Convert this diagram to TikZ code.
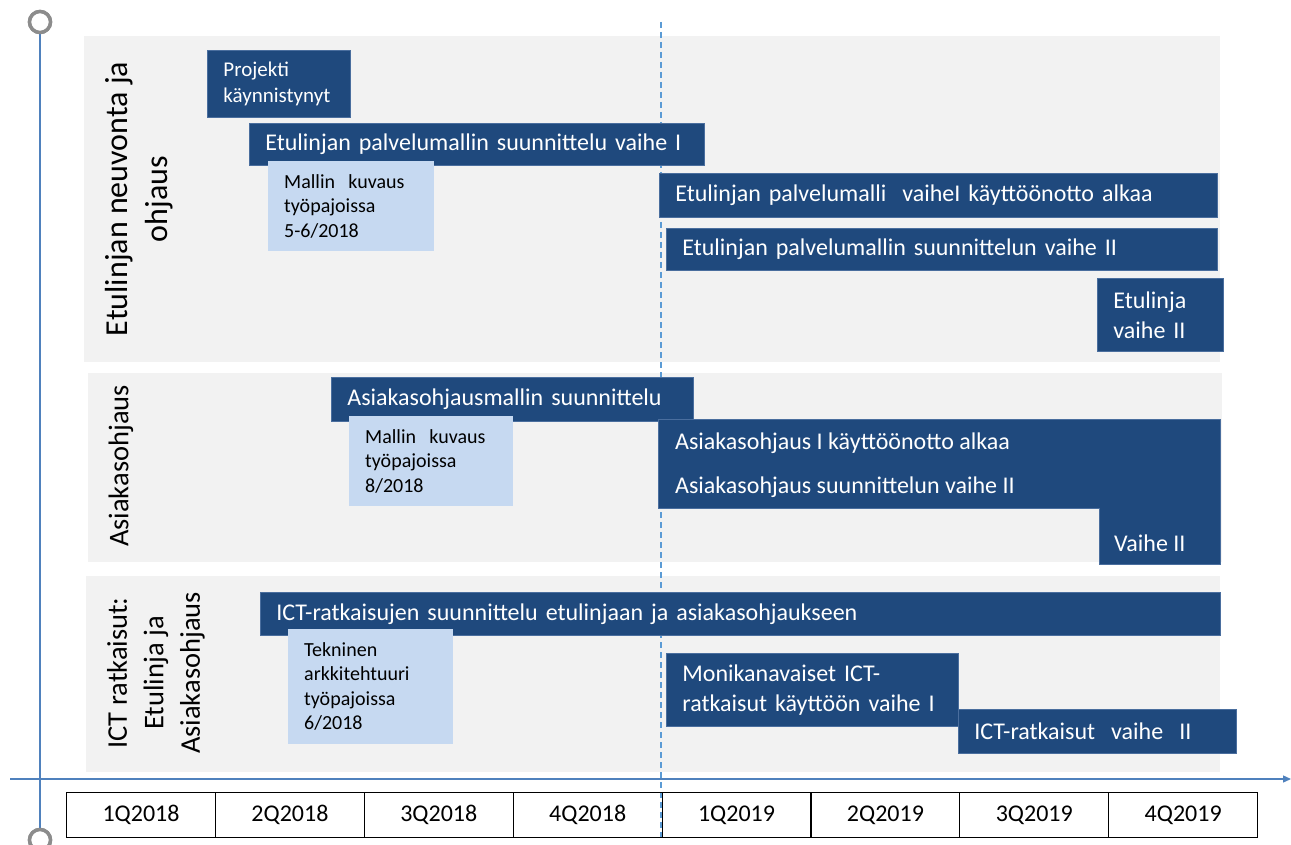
\documentclass[tikz,border=0pt]{standalone}
\usepackage{fontspec}
\setmainfont{Carlito}
\usetikzlibrary{arrows.meta}
\definecolor{dblue}{HTML}{1F497D}
\definecolor{dborder}{HTML}{4A6E9E}
\definecolor{lblue}{HTML}{C6D9F1}
\definecolor{bandgray}{HTML}{F2F2F2}
\definecolor{axisblue}{HTML}{4F81BD}
\definecolor{dashblue}{HTML}{5B9BD5}
\definecolor{circgray}{HTML}{8C8C8C}
\newcommand\myfs[2]{\fontsize{#1}{#2}\selectfont}
\tikzset{
  band/.style={fill=bandgray, draw=none},
  dbox/.style={fill=dblue, draw=dborder, line width=0.8pt, text=white, align=left,
    inner xsep=16pt, inner ysep=0pt, anchor=north west, font=\myfs{24}{30}},
  lbox/.style={fill=lblue, draw=none, text=black, align=left,
    inner xsep=16pt, inner ysep=0pt, anchor=north west, font=\myfs{20}{24.5}},
  ptext/.style={text=white, inner xsep=16pt, inner ysep=0pt, anchor=west, font=\myfs{24}{30}},
  polybox/.style={fill=dblue, draw=dborder, line width=0.8pt},
  cell/.style={draw=black, line width=1.2pt, minimum width=148.875pt, minimum height=45pt,
    inner sep=0pt, anchor=north west, font=\myfs{24}{29}},
  lbl/.style={rotate=90, align=center, text=black, inner sep=0pt},
  axisline/.style={draw=axisblue, line width=1.3pt},
  dashline/.style={draw=dashblue, line width=1.2pt, dash pattern=on 6pt off 4pt},
  endcirc/.style={circle, draw=circgray, fill=white, line width=3.5pt, minimum size=21pt, inner sep=0pt},
}
\begin{document}
\begin{tikzpicture}[x=1pt,y=-1pt]
\useasboundingbox (0,0) rectangle (1291,845);
% bands
\fill[band] (84,36) rectangle (1220,362);
\fill[band] (88,373) rectangle (1222,562);
\fill[band] (86,576) rectangle (1220,772);
% axes
\node[endcirc] (ctop) at (40,22) {};
\node[endcirc] (cbot) at (40,840) {};
\draw[axisline] (ctop) -- (cbot);
\node[endcirc] at (ctop) {};
\node[endcirc] at (cbot) {};
\coordinate (hx0) at (10,779);
\coordinate (hx1) at (1291,779);
\draw[axisline, -{Triangle[length=8pt,width=7pt]}] (hx0) -- (hx1);
% dashed line
\coordinate (dtop) at (661,22);
\coordinate (dbot) at (661,838);
\draw[dashline] (dtop) -- (dbot);
% band labels
\node[lbl, font=\myfs{32}{40}] (lab1) at (139,199) {Etulinjan neuvonta ja\\ohjaus};
\node[lbl, font=\myfs{28.5}{35}] (lab2) at (121,466) {Asiakasohjaus};
\node[lbl, font=\myfs{28.5}{36.5}] (lab3) at (156,673) {ICT ratkaisut:\\Etulinja ja\\Asiakasohjaus};
% band 1
\node[dbox, minimum height=67pt, text width=111pt, font=\myfs{21}{26}] (p1) at (207,50) {Projekti\\käynnistynyt};
\node[dbox, minimum height=42pt, text width=423pt] (e1) at (249,123) {Etulinjan palvelumallin suunnittelu vaihe I};
\node[lbox, minimum height=90pt, text width=134pt] (m1) at (268,161) {Mallin\ \ kuvaus\\työpajoissa\\5-6/2018};
\node[dbox, minimum height=44pt, text width=526pt] (e2) at (659,173) {Etulinjan palvelumalli\ \ vaiheI käyttöönotto alkaa};
\node[dbox, minimum height=42pt, text width=519pt] (e3) at (666,228) {Etulinjan palvelumallin suunnittelun vaihe II};
\node[dbox, minimum height=73pt, text width=94pt] (e4) at (1097,278) {Etulinja\\vaihe II};
% band 2
\node[dbox, minimum height=44pt, text width=330pt] (a1) at (331,377) {Asiakasohjausmallin suunnittelu};
\node[lbox, minimum height=90pt, text width=132pt] (m2) at (349,416) {Mallin\ \ kuvaus\\työpajoissa\\8/2018};
\draw[polybox] (658,419) -- (1220,419) -- (1220,564) -- (1099,564) -- (1099,508) -- (658,508) -- cycle;
\node[ptext] (a2) at (659,443) {Asiakasohjaus I käyttöönotto alkaa};
\node[ptext] (a3) at (659,487) {Asiakasohjaus suunnittelun vaihe II};
\node[ptext] (a4) at (1098,543) {Vaihe II};
% band 3
\node[dbox, minimum height=43pt, text width=928pt] (i1) at (260,592) {ICT-ratkaisujen suunnittelu etulinjaan ja asiakasohjaukseen};
\node[lbox, minimum height=115pt, text width=133pt] (m3) at (288,629) {Tekninen\\arkkitehtuuri\\työpajoissa\\6/2018};
\node[dbox, minimum height=73pt, text width=260pt] (i2) at (666,653) {Monikanavaiset ICT-\\ratkaisut käyttöön vaihe I};
\node[dbox, minimum height=44pt, text width=246pt] (i3) at (958,709) {ICT-ratkaisut\ \ vaihe\ \ II};
% timeline
\foreach \t [count=\i from 0] in {1Q2018,2Q2018,3Q2018,4Q2018,1Q2019,2Q2019,3Q2019,4Q2019}
  \node[cell] (q\i) at ({66+\i*148.875},792) {\t};
\end{tikzpicture}
\end{document}
